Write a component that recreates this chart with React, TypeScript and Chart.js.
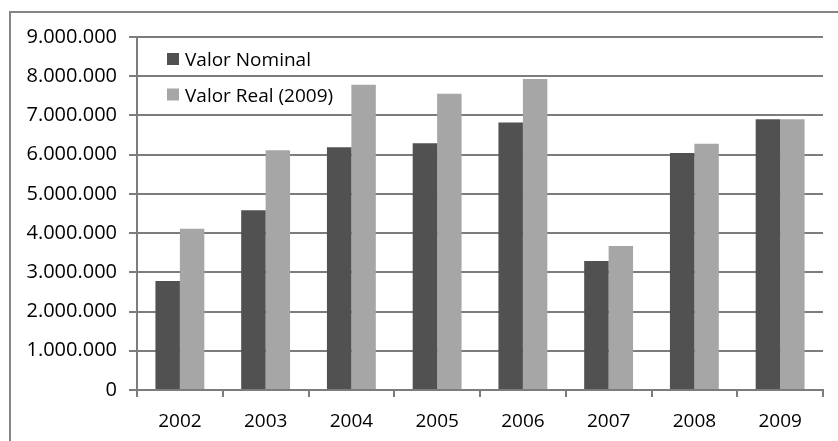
import React, { useEffect, useRef } from "react";
import { Chart, registerables } from "chart.js";

Chart.register(...registerables);

const years = ["2002", "2003", "2004", "2005", "2006", "2007", "2008", "2009"];
const valorNominal = [2780000, 4580000, 6190000, 6290000, 6820000, 3290000, 6040000, 6900000];
const valorReal = [4110000, 6110000, 7780000, 7550000, 7930000, 3670000, 6280000, 6900000];
const seriesLabels = ["Valor Nominal", "Valor Real (2009)"];
const yMax = 9000000;
const yStep = 1000000;

const FONT = "'Open Sans', sans-serif";
const GRID = "#7c7c7c";

// Thousands separator with dots: 9000000 -> "9.000.000"
const fmt = (v: number) =>
  String(Math.round(v)).replace(/\B(?=(\d{3})+(?!\d))/g, ".");

// Outer frame around the chart
const framePlugin = {
  id: "frame",
  beforeDraw(chart: any) {
    const { ctx } = chart;
    ctx.save();
    ctx.strokeStyle = "#858585";
    ctx.lineWidth = 2;
    ctx.strokeRect(10, 12, chart.width + 20, chart.height + 20);
    ctx.restore();
  },
};

// Legend drawn inside the plot area, top-left
const insideLegend = {
  id: "insideLegend",
  afterDatasetsDraw(chart: any) {
    const { ctx, chartArea } = chart;
    ctx.save();
    ctx.font = `19px ${FONT}`;
    ctx.textBaseline = "alphabetic";
    ctx.textAlign = "left";
    chart.data.datasets.forEach((ds: any, i: number) => {
      const baseline = chartArea.top + 29 + i * 35.5;
      ctx.fillStyle = ds.backgroundColor;
      ctx.fillRect(chartArea.left + 30, baseline - 13, 12, 12);
      ctx.fillStyle = "#000";
      ctx.fillText(ds.label, chartArea.left + 48, baseline);
    });
    ctx.restore();
  },
};

export default function App() {
  const ref = useRef<HTMLCanvasElement | null>(null);

  useEffect(() => {
    if (!ref.current) return;
    const chart = new Chart(ref.current, {
      type: "bar",
      data: {
        labels: years,
        datasets: [
          {
            label: seriesLabels[0],
            data: valorNominal,
            backgroundColor: "#515151",
            categoryPercentage: 0.57,
            barPercentage: 1,
          },
          {
            label: seriesLabels[1],
            data: valorReal,
            backgroundColor: "#a6a6a6",
            categoryPercentage: 0.57,
            barPercentage: 1,
          },
        ],
      },
      options: {
        responsive: false,
        animation: false,
        devicePixelRatio: 1,
        events: [],
        layout: { padding: { left: 0, top: 37, right: 15, bottom: 0 } },
        plugins: {
          legend: { display: false },
          tooltip: { enabled: false },
        },
        scales: {
          x: {
            afterFit: (s: any) => {
              s.height = 51;
            },
            grid: {
              display: true,
              drawOnChartArea: false,
              drawTicks: true,
              tickLength: 7,
              color: GRID,
              lineWidth: 2,
              offset: true,
            },
            border: { color: GRID, width: 2 },
            ticks: {
              font: { family: FONT, size: 19 },
              color: "#000",
              padding: 13,
            },
          },
          y: {
            min: 0,
            max: yMax,
            afterFit: (s: any) => {
              s.width = 137;
            },
            grid: {
              color: GRID,
              lineWidth: 2,
              tickLength: 8,
              drawTicks: true,
            },
            border: { color: GRID, width: 2 },
            ticks: {
              stepSize: yStep,
              font: { family: FONT, size: 20 },
              color: "#000",
              padding: 12,
              callback: (v: any) => fmt(Number(v)),
            },
          },
        },
      },
      plugins: [framePlugin, insideLegend],
    });
    return () => chart.destroy();
  }, []);

  return (
    <div style={{ position: "fixed", left: 0, top: 0, width: 838, height: 441, background: "#fff" }}>
      <canvas ref={ref} width={838} height={441} style={{ display: "block" }} />
    </div>
  );
}
